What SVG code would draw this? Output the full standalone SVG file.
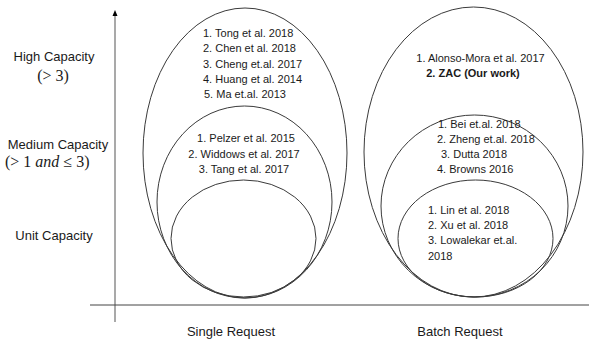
<svg xmlns="http://www.w3.org/2000/svg" width="589" height="339" viewBox="0 0 589 339">
<style>
.bg{fill:#ffffff}
.el{fill:none;stroke:#3a3a3a;stroke-width:1}
.t{font-family:"Liberation Sans",Arial,sans-serif;font-size:11px;fill:#1a1a1a}
.b{font-weight:bold}
.lab{font-family:"Liberation Sans",Arial,sans-serif;font-size:13px;fill:#1a1a1a}
.m{font-family:"Liberation Serif","Times New Roman",serif;font-size:16px;fill:#1a1a1a}
.c{text-anchor:middle}
</style>
<rect class="bg" x="0" y="0" width="589" height="339"/>
<g id="axes">
<line x1="115" y1="322" x2="115" y2="16" stroke="#8c8c8c" stroke-width="1.5"/>
<path d="M112.5,16 L115,10 L117.5,16 Z" fill="#000"/>
<line x1="90" y1="305" x2="589" y2="305" stroke="#444" stroke-width="1"/>
</g>
<g id="labels">
<text class="lab c" x="54" y="61">High Capacity</text>
<text class="m c" x="53" y="81">(&gt; 3)</text>
<text class="lab c" x="58" y="149">Medium Capacity</text>
<text class="m" x="5" y="167">(&gt; 1 <tspan font-style="italic">and</tspan> ≤ 3)</text>
<text class="lab c" x="54" y="240">Unit Capacity</text>
<text class="lab c" x="231" y="336">Single Request</text>
<text class="lab c" x="460" y="336">Batch Request</text>
</g>
<g id="single-high">
<ellipse class="el" cx="245" cy="153" rx="102" ry="145"/>
<text class="t" x="203" y="37">1. Tong et al. 2018</text>
<text class="t" x="203" y="52">2. Chen et al. 2018</text>
<text class="t" x="203" y="68">3. Cheng et.al. 2017</text>
<text class="t" x="203" y="83">4. Huang et al. 2014</text>
<text class="t" x="204" y="98">5. Ma et.al. 2013</text>
</g>
<g id="single-medium">
<ellipse class="el" cx="244.5" cy="202" rx="87.5" ry="96"/>
<text class="t c" x="246" y="142">1. Pelzer et al. 2015</text>
<text class="t c" x="244" y="158">2. Widdows et al. 2017</text>
<text class="t c" x="244" y="173">3. Tang et al. 2017</text>
</g>
<g id="single-unit">
<ellipse class="el" cx="243.5" cy="238.5" rx="72.5" ry="58.5"/>
</g>
<g id="batch-high">
<ellipse class="el" cx="473.5" cy="152" rx="109.5" ry="145"/>
<text class="t c" x="480.5" y="62">1. Alonso-Mora et al. 2017</text>
<text class="t b c" x="473" y="77">2. ZAC (Our work)</text>
</g>
<g id="batch-medium">
<ellipse class="el" cx="474.5" cy="206" rx="93.5" ry="91"/>
<text class="t" x="438" y="128">1. Bei et.al. 2018</text>
<text class="t" x="437" y="143">2. Zheng et.al. 2018</text>
<text class="t" x="441" y="158">3. Dutta 2018</text>
<text class="t" x="437" y="173">4. Browns 2016</text>
</g>
<g id="batch-unit">
<ellipse class="el" cx="475.5" cy="238.5" rx="77.5" ry="58.5"/>
<text class="t" x="428" y="214">1. Lin et al. 2018</text>
<text class="t" x="428" y="229">2. Xu et al. 2018</text>
<text class="t" x="428" y="244">3. Lowalekar et.al.</text>
<text class="t" x="428" y="260">2018</text>
</g>
</svg>
